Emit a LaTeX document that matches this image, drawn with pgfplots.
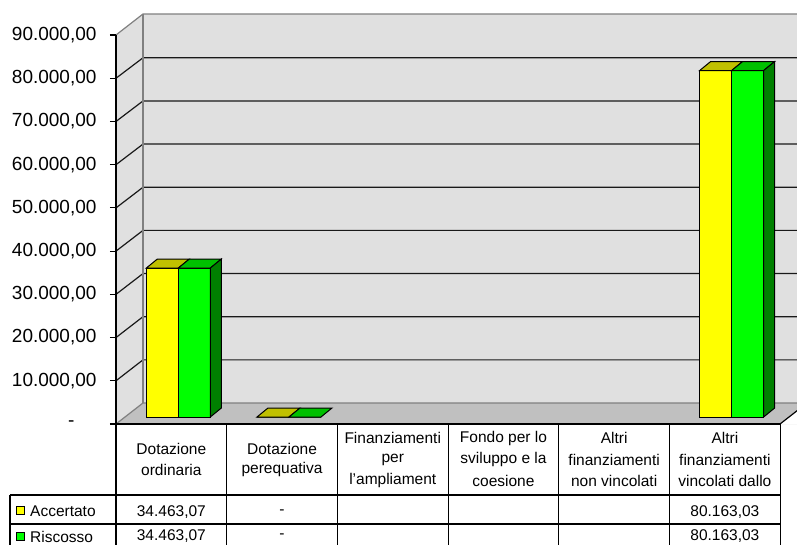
\documentclass[border=0pt]{standalone}
\usepackage{pgfplots}
\pgfplotsset{compat=1.18}
\usepackage{fontspec}
\setmainfont{Liberation Sans}
\definecolor{wall}{HTML}{E0E0E0}
\definecolor{floorc}{HTML}{C0C0C0}
\definecolor{edgegray}{HTML}{808080}
\definecolor{yfront}{HTML}{FFFF00}
\definecolor{ytop}{HTML}{C0C000}
\definecolor{gfront}{HTML}{00FF00}
\definecolor{gtop}{HTML}{00C000}
\definecolor{gside}{HTML}{008000}
\newcommand{\tabfont}{\fontsize{15.5}{18}\selectfont}
\newcommand{\ycap}[2]{\filldraw[fill=ytop, draw=black, line width=1pt] ([shift={(-25pt,7pt)}]axis cs:#1,#2) -- ++(11pt,9pt) -- ++(32pt,0pt) -- ++(-11pt,-9pt) -- cycle;}
\newcommand{\gcap}[2]{\filldraw[fill=gtop, draw=black, line width=1pt] ([shift={(7pt,7pt)}]axis cs:#1,#2) -- ++(11pt,9pt) -- ++(32pt,0pt) -- ++(-11pt,-9pt) -- cycle;}
\newcommand{\gside}[2]{\filldraw[fill=gside, draw=black, line width=1pt] ([shift={(39pt,7pt)}]axis cs:#1,#2) -- ++(11pt,9pt) -- ([shift={(50pt,16pt)}]axis cs:#1,0) -- ([shift={(39pt,7pt)}]axis cs:#1,0) -- cycle;}
\begin{document}
\begin{tikzpicture}[x=1pt,y=1pt]
\path[use as bounding box] (0,0) rectangle (797,544);
\clip (0,0) rectangle (797,544);
% back wall and left wall
\fill[wall] (143,141) rectangle (820,530);
\fill[wall] (116,120) -- (143,141) -- (143,530) -- (116,509) -- cycle;
% floor
\fill[floorc] (116,120) -- (143,141) -- (820,141) -- (820,120) -- cycle;
\fill[white] (780,120) -- (807,141) -- (820,141) -- (820,120) -- cycle;
% gridlines
\foreach \k in {1,...,8}{
  \draw[line width=1.2pt, black!90] (116,{120+43.22*\k}) -- (143,{141+43.15*\k}) -- (820,{141+43.15*\k});
}
\draw[line width=1.2pt, edgegray] (116,509) -- (143,530) -- (820,530);
\draw[line width=1.2pt, edgegray] (143,530) -- (143,141);
\draw[line width=1.2pt, edgegray] (116,120) -- (143,141) -- (820,141);
\draw[line width=1.2pt, black] (780,120) -- (807,141);
\begin{axis}[
  at={(116pt,120pt)}, anchor=south west, scale only axis,
  width=664pt, height=389pt,
  xmin=-0.5, xmax=5.5, ymin=0, ymax=90000,
  axis x line=none, axis y line=left,
  scaled y ticks=false,
  y axis line style={-, line width=1.2pt, black},
  ytick={0,10000,20000,30000,40000,50000,60000,70000,80000,90000},
  yticklabels={{-\hspace*{22pt}},{10.000,00},{20.000,00},{30.000,00},{40.000,00},{50.000,00},{60.000,00},{70.000,00},{80.000,00},{90.000,00}},
  tick align=outside, major tick length=6pt,
  ytick style={black, line width=1.2pt},
  yticklabel style={font=\fontsize{19}{22}\selectfont, text=black, xshift=-10pt},
  clip=false,
]
\addplot[ybar, bar width=32pt, bar shift=-9pt, yshift=7pt, fill=yfront, draw=black, line width=1pt]
  coordinates {(0,34463.07) (1,0) (5,80163.03)};
\addplot[ybar, bar width=32pt, bar shift=23pt, yshift=7pt, fill=gfront, draw=black, line width=1pt]
  coordinates {(0,34463.07) (1,0) (5,80163.03)};
% 3D caps and sides
\ycap{0}{34463.07}
\gcap{0}{34463.07}
\gside{0}{34463.07}
\ycap{1}{0}
\gcap{1}{0}
\ycap{5}{80163.03}
\gcap{5}{80163.03}
\gside{5}{80163.03}
\end{axis}
% data table
\draw[line width=1.2pt] (116,120) -- (780.2,120);
\foreach \x in {116,226.7,337.4,448.1,558.8,669.5,780.2}{
  \draw[line width=1.2pt] (\x,120) -- (\x,-5);
}
\draw[line width=1.2pt] (10,49) -- (780.2,49);
\draw[line width=1.2pt] (10,20) -- (780.2,20);
\draw[line width=1.2pt] (10,49) -- (10,-5);
\begin{scope}[every node/.style={font=\tabfont, inner sep=0pt, anchor=center}]
% headers
\node at (171.35,95.5) {Dotazione};
\node at (171.35,74.5) {ordinaria};
\node at (282.05,95.5) {Dotazione};
\node at (282.05,74.5) {perequativa};
\node at (392.75,106) {Finanziamenti};
\node at (392.75,84.5) {per};
\node at (392.75,63.5) {l'ampliament};
\node at (503.45,106) {Fondo per lo};
\node at (503.45,84.5) {sviluppo e la};
\node at (503.45,63.5) {coesione};
\node at (614.15,106) {Altri};
\node at (614.15,84.5) {finanziamenti};
\node at (614.15,63.5) {non vincolati};
\node at (724.85,106) {Altri};
\node at (724.85,84.5) {finanziamenti};
\node at (724.85,63.5) {vincolati dallo};
% values
\node at (171.35,32.3) {34.463,07};
\node at (282.05,32.3) {-};
\node at (724.85,32.3) {80.163,03};
\node at (171.35,7.5) {34.463,07};
\node at (282.05,7.5) {-};
\node at (724.85,7.5) {80.163,03};
% legend
\node[anchor=west] at (30,33) {Accertato};
\node[anchor=west] at (30,7.5) {Riscosso};
\end{scope}
\filldraw[fill=yfront, draw=black, line width=1pt] (16,30) rectangle (24,38);
\filldraw[fill=gfront, draw=black, line width=1pt] (16,3.5) rectangle (24,11.5);
\end{tikzpicture}
\end{document}
